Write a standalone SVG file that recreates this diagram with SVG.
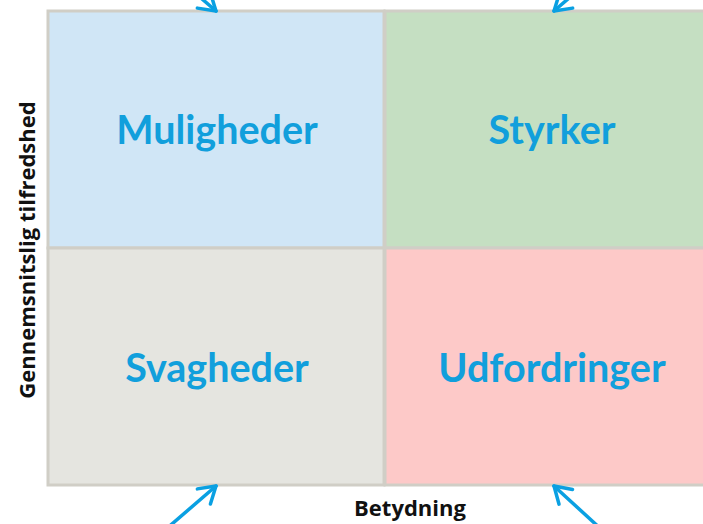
<svg xmlns="http://www.w3.org/2000/svg" width="703" height="524" viewBox="0 0 703 524">
<style>
.q{stroke:#d0cec6;stroke-width:3}
.lbl{font-family:Lato,"Open Sans",sans-serif;font-weight:bold;font-size:39.5px;fill:#119fdc;text-anchor:middle}
.ax{font-family:"Open Sans","Noto Sans",sans-serif;font-weight:bold;font-size:22px;fill:#111;text-anchor:middle}
.arr{stroke:#0aa0e2;stroke-width:3.5;fill:none;stroke-linecap:round;marker-end:url(#ah)}
</style>
<defs>
<marker id="ah" markerUnits="userSpaceOnUse" markerWidth="24" markerHeight="24" refX="20" refY="10" orient="auto" viewBox="0 0 24 24" overflow="visible">
<path d="M4,0 L20,10 L4,20" fill="none" stroke="#0aa0e2" stroke-width="3.5" stroke-linecap="round" stroke-linejoin="round"/>
</marker>
</defs>
<rect width="703" height="524" fill="#fff"/>
<g id="muligheder">
<rect class="q" x="48" y="11" width="336" height="237" fill="#d0e6f6"/>
<text class="lbl" x="217" y="144">Muligheder</text>
</g>
<g id="styrker">
<rect class="q" x="385" y="11" width="330" height="237" fill="#c5dfc2"/>
<text class="lbl" x="552" y="144">Styrker</text>
</g>
<g id="svagheder">
<rect class="q" x="48" y="248" width="336" height="237" fill="#e5e5e0"/>
<text class="lbl" x="217" y="382">Svagheder</text>
</g>
<g id="udfordringer">
<rect class="q" x="385" y="248" width="330" height="237" fill="#fdc9c8"/>
<text class="lbl" x="552" y="382">Udfordringer</text>
</g>
<g id="axes">
<text class="ax" transform="translate(35,250) rotate(-90)">Gennemsnitslig tilfredshed</text>
<text class="ax" x="410" y="516">Betydning</text>
</g>
<g id="connectors">
<path class="arr" d="M165,-33 L216,11"/>
<path class="arr" d="M605,-33 L554,11"/>
<path class="arr" d="M165,530 L216,486"/>
<path class="arr" d="M602,530 L554,486"/>
</g>
</svg>
